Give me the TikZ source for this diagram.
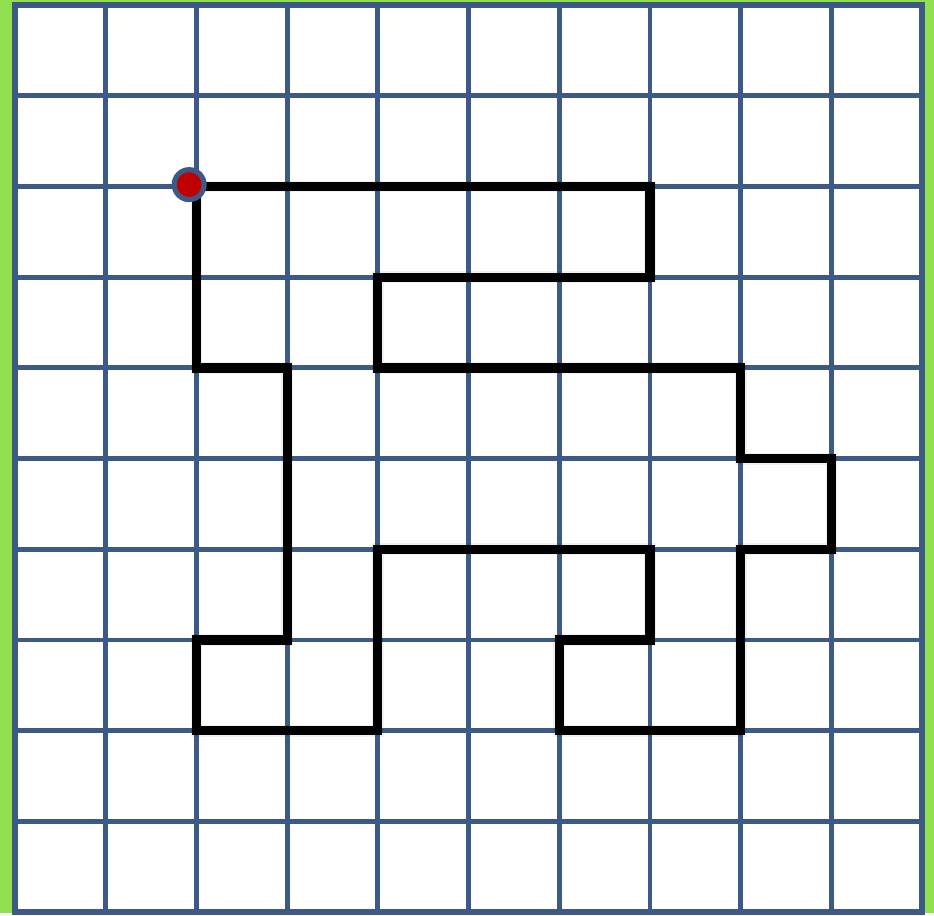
\documentclass[tikz,border=0pt]{standalone}
\usepackage{tikz}
\usetikzlibrary{positioning}

\begin{document}
\begin{tikzpicture}[
    x=1cm, y=-1cm,
    gridline/.style={line width=1.5pt, draw=gbl},
    track/.style={line width=2.9pt, line cap=rect, line join=miter},
    shade/.style={draw=black, opacity=0.06}
]
    \definecolor{gbl}{HTML}{3D5A87}
    \definecolor{lawn}{HTML}{90E050}
    \definecolor{dotred}{HTML}{C00000}

    % page and board
    \fill [lawn] (-0.165,-0.055) rectangle (10.13,10.01);
    \fill [white] (0,0) rectangle (10,10);
    \foreach \i in {0,...,10} {
        \draw [gridline] (\i,0) -- (\i,10);
        \draw [gridline] (0,\i) -- (10,\i);
    }
    \draw [gridline, line width=2pt] (0,0) rectangle (10,10);

    % corners of the walk
    \coordinate (s) at (2,2);
    \coordinate (a) at (7,2);
    \coordinate (b) at (7,3);
    \coordinate (c) at (4,3);
    \coordinate (d) at (4,4);
    \coordinate (e) at (8,4);
    \coordinate (f) at (8,5);
    \coordinate (g) at (9,5);
    \coordinate (h) at (9,6);
    \coordinate (i) at (8,6);
    \coordinate (j) at (8,8);
    \coordinate (k) at (6,8);
    \coordinate (l) at (6,7);
    \coordinate (m) at (7,7);
    \coordinate (n) at (7,6);
    \coordinate (o) at (4,6);
    \coordinate (p) at (4,8);
    \coordinate (q) at (2,8);
    \coordinate (r) at (2,7);
    \coordinate (t) at (3,7);
    \coordinate (u) at (3,4);
    \coordinate (v) at (2,4);

    \foreach \w in {0.08,0.13} {
        \draw [shade, line width=\w cm, shift={(-0.03,0.03)}]
            (s) -- (a) -- (b) -- (c) -- (d) -- (e) -- (f) -- (g) -- (h)
            -- (i) -- (j) -- (k) -- (l) -- (m) -- (n) -- (o) -- (p) -- (q)
            -- (r) -- (t) -- (u) -- (v) -- cycle;
    }
    \draw [track]
        (s) -- (a) -- (b) -- (c) -- (d) -- (e) -- (f) -- (g) -- (h)
        -- (i) -- (j) -- (k) -- (l) -- (m) -- (n) -- (o) -- (p) -- (q)
        -- (r) -- (t) -- (u) -- (v) -- cycle;

    % start marker
    \node [circle, fill=dotred, draw=gbl, line width=1.6pt,
           minimum size=0.33cm, inner sep=0pt] (start) at (1.92,1.98) {};
\end{tikzpicture}
\end{document}
